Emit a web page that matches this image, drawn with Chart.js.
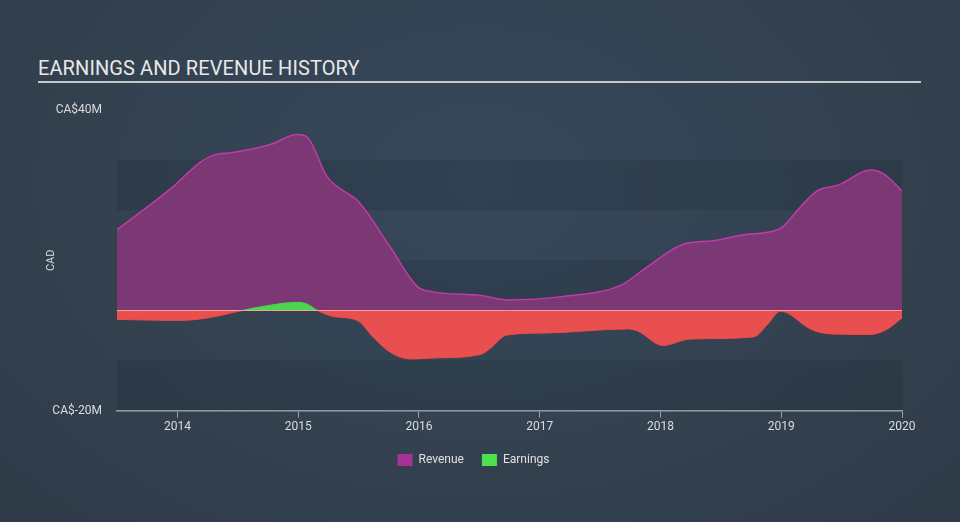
<!DOCTYPE html>
<html>
<head>
<meta charset="utf-8">
<script src="https://cdn.jsdelivr.net/npm/chart.js@4/dist/chart.umd.min.js"></script>
<style>
  html, body { margin: 0; padding: 0; }
  body {
    width: 960px; height: 522px; overflow: hidden; position: relative;
    background: radial-gradient(ellipse at 50% 35%, #37485b 0%, #33414f 60%, #2f3a47 100%);
    font-family: Roboto, "Noto Sans", sans-serif;
  }
  #title {
    position: absolute; left: 38px; top: 56px; width: 883px;
    color: #e8e8e8; font-size: 20px; letter-spacing: 0.1px;
    border-bottom: 2px solid #c4c8cc; padding-bottom: 1px; line-height: 24px;
  }
  #wrap { position: absolute; left: 0; top: 0; width: 960px; height: 522px; }
</style>
</head>
<body>
<div id="title">EARNINGS AND REVENUE HISTORY</div>
<div id="wrap"><canvas id="chart"></canvas></div>
<script>
// revenue, CA$M, x in decimal years
const revenueYears = [2013.50, 2013.96, 2014.19, 2014.30, 2014.46, 2014.77, 2014.99, 2015.07, 2015.24, 2015.41,
  2015.49, 2015.76, 2015.99, 2016.12, 2016.51, 2016.73, 2017.20, 2017.67, 2017.89, 2018.19,
  2018.44, 2018.69, 2018.99, 2019.16, 2019.30, 2019.47, 2019.74, 2019.85, 2020.00];
const revenueValues = [16.1, 24.6, 29.6, 31.0, 31.5, 33.1, 35.1, 34.7, 26.7, 23.3,
  22.0, 12.7, 4.7, 3.7, 3.0, 2.1, 2.8, 5.0, 8.7, 13.2,
  13.9, 15.1, 16.3, 20.7, 23.9, 25.0, 28.0, 27.2, 23.9];

// earnings, CA$M
const earningsYears = [2013.50, 2014.02, 2014.25, 2014.52, 2014.71, 2014.99, 2015.07, 2015.16, 2015.29, 2015.49,
  2015.62, 2015.76, 2015.93, 2016.12, 2016.51, 2016.59, 2016.73, 2017.06, 2017.73, 2017.81,
  2018.02, 2018.25, 2018.77, 2018.89, 2018.99, 2019.05, 2019.24, 2019.41, 2019.74, 2019.88, 2020.00];
const earningsValues = [-1.8, -2.0, -1.5, -0.1, 0.8, 1.6, 1.3, 0.0, -1.2, -2.0,
  -5.3, -8.3, -9.7, -9.5, -8.8, -7.6, -4.9, -4.5, -3.7, -4.1,
  -7.0, -5.7, -5.3, -2.7, -0.2, -0.5, -3.7, -4.7, -4.8, -3.7, -1.5];

const yearTicks = [2014, 2015, 2016, 2017, 2018, 2019, 2020];
const yTickValues = [-20, 40];
const yTickLabels = ['CA$-20M', 'CA$40M'];

const revenueData = revenueYears.map((x, i) => ({ x: x, y: revenueValues[i] }));
const earningsData = earningsYears.map((x, i) => ({ x: x, y: earningsValues[i] }));

// bands behind the plot, from -20 up to 30
const bandsPlugin = {
  id: 'bands',
  beforeDatasetsDraw(chart) {
    const { ctx, chartArea, scales } = chart;
    const y = scales.y;
    ctx.save();
    for (let v = -20; v < 30; v += 10) {
      const top = y.getPixelForValue(v + 10);
      const bot = y.getPixelForValue(v);
      const idx = (v + 20) / 10;
      ctx.fillStyle = idx % 2 === 0 ? 'rgba(20,28,38,0.16)' : 'rgba(255,255,255,0.0)';
      ctx.fillRect(chartArea.left, top, chartArea.right - chartArea.left, bot - top);
    }
    ctx.restore();
  },
  afterDatasetsDraw(chart) {
    const { ctx, chartArea, scales } = chart;
    const y0 = Math.round(scales.y.getPixelForValue(0)) + 0.5;
    ctx.save();
    ctx.strokeStyle = '#f3a09c';
    ctx.lineWidth = 1;
    ctx.beginPath();
    ctx.moveTo(chartArea.left, y0);
    ctx.lineTo(chartArea.right, y0);
    ctx.stroke();
    ctx.restore();
  }
};

new Chart(document.getElementById('chart'), {
  type: 'line',
  data: {
    datasets: [
      {
        label: 'Revenue',
        data: revenueData,
        order: 1,
        borderColor: '#c23aa6',
        backgroundColor: '#a63399',
        borderWidth: 1.5,
        pointRadius: 0,
        cubicInterpolationMode: 'monotone',
        fill: { target: 'origin', above: 'rgba(123,56,116,1)', below: 'rgba(123,56,116,1)' }
      },
      {
        label: 'Earnings',
        data: earningsData,
        order: 0,
        borderColor: '#ef4a4c',
        backgroundColor: '#4fe04f',
        borderWidth: 1,
        pointRadius: 0,
        cubicInterpolationMode: 'monotone',
        segment: {
          borderColor: c => (c.p0.parsed.y + c.p1.parsed.y) / 2 > 0 ? '#4cd94c' : '#ef4a4c'
        },
        fill: { target: 'origin', above: '#4dd64d', below: '#ea4f50' }
      }
    ]
  },
  options: {
    responsive: true,
    maintainAspectRatio: false,
    animation: false,
    layout: { padding: { left: 45, right: 58, top: 110, bottom: 46 } },
    plugins: {
      title: { display: false },
      tooltip: { enabled: false },
      legend: {
        position: 'bottom',
        sort: (a, b) => a.datasetIndex - b.datasetIndex,
        labels: {
          color: '#e0e0e0',
          font: { family: 'Roboto', size: 12 },
          boxWidth: 15,
          boxHeight: 12,
          padding: 18,
          generateLabels: chart => chart.data.datasets.map((ds, i) => ({
            text: ds.label,
            fillStyle: ds.backgroundColor,
            strokeStyle: ds.backgroundColor,
            lineWidth: 0,
            fontColor: '#e0e0e0',
            datasetIndex: i
          }))
        }
      }
    },
    scales: {
      x: {
        type: 'linear',
        min: 2013.5,
        max: 2020.0,
        afterBuildTicks: axis => { axis.ticks = yearTicks.map(v => ({ value: v })); },
        ticks: {
          color: '#dcdcdc',
          font: { family: 'Roboto', size: 12 },
          padding: 2,
          maxRotation: 0,
          callback: v => String(v)
        },
        grid: {
          display: true,
          drawOnChartArea: false,
          drawTicks: true,
          tickLength: 7,
          color: '#9aa4b0'
        },
        border: { display: true, color: '#9aa4b0', width: 1.5 }
      },
      y: {
        min: -20,
        max: 40,
        afterBuildTicks: axis => { axis.ticks = yTickValues.map(v => ({ value: v })); },
        afterFit: scale => { scale.width = 72; },
        ticks: {
          color: '#dcdcdc',
          font: { family: 'Roboto', size: 12 },
          padding: 15,
          callback: v => yTickLabels[yTickValues.indexOf(v)]
        },
        grid: { display: false, drawTicks: false },
        border: { display: false },
        title: {
          display: true,
          text: 'CAD',
          color: '#dcdcdc',
          font: { family: 'Roboto', size: 11 },
          padding: 0
        }
      }
    }
  },
  plugins: [bandsPlugin]
});
</script>
</body>
</html>
